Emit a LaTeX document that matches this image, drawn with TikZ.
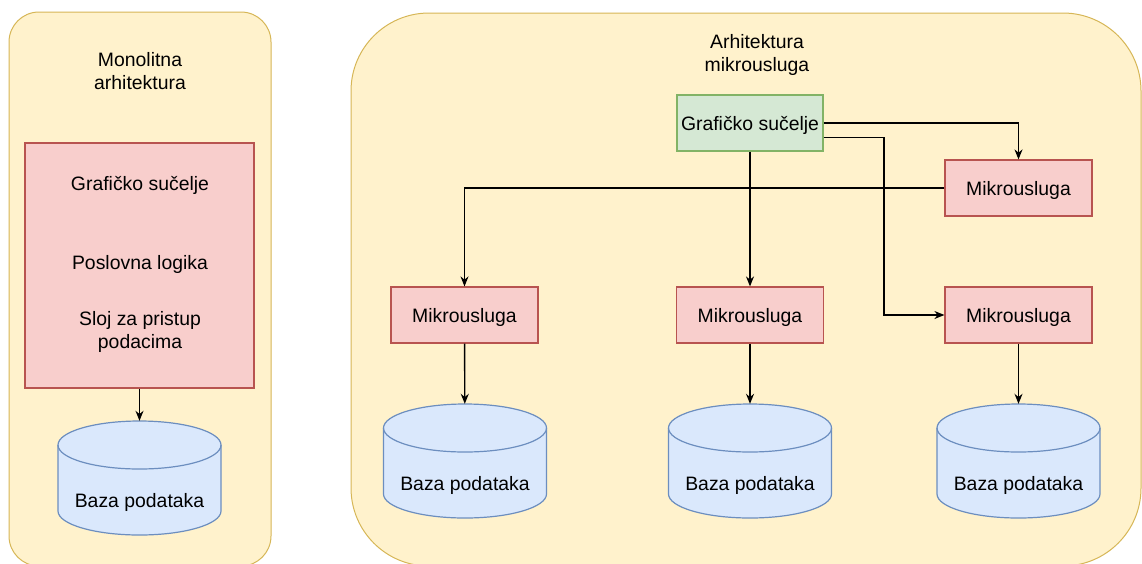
\documentclass[tikz,border=0pt]{standalone}
\usepackage{fontspec}
\setmainfont{Liberation Sans}
\usepackage{xcolor}
\usetikzlibrary{calc}
\usetikzlibrary{arrows.meta}
\definecolor{contfill}{HTML}{FFF2CC}
\definecolor{contline}{HTML}{D6B656}
\definecolor{boxfill}{HTML}{F8CECC}
\definecolor{boxline}{HTML}{B85450}
\definecolor{guifill}{HTML}{D5E8D4}
\definecolor{guiline}{HTML}{82B366}
\definecolor{dbfill}{HTML}{DAE8FC}
\definecolor{dbline}{HTML}{6C8EBF}
\tikzset{
	container/.style={draw=contline, fill=contfill, line width=1pt},
	txt/.style={font=\fontsize{19.4}{22.5}\selectfont, align=center, inner sep=0pt},
	service/.style={draw=boxline, fill=boxfill, line width=1.2pt, minimum width=147, minimum height=56, txt,
			text height=17pt, text depth=2pt},
	gui/.style={draw=guiline, fill=guifill, line width=1.2pt, minimum width=146, minimum height=56, txt,
			text height=17pt, text depth=2pt},
	db/.style={rectangle, minimum width=163, minimum height=114, inner sep=0pt,
			label={[txt, yshift=-24pt]center:Baza podataka}},
	dbshape/.style={draw=dbline, fill=dbfill, line width=1.2pt},
	flow/.style={-{Stealth[length=10pt,width=8pt]}, line width=1.4pt, black}
}

\begin{document}
\begin{tikzpicture}[x=1pt,y=-1pt]
	\useasboundingbox (0,0) rectangle (1142,563);
	\draw[container, rounded corners=30pt] (9,12) rectangle (271,566);
	\draw[container, rounded corners=78pt] (351,13) rectangle (1141,566);

	% monolitna
	\node[txt] (monotitle) at (140,71) {Monolitna\\arhitektura};
	\node[draw=boxline, fill=boxfill, line width=1.2pt, minimum width=229, minimum height=245] (mono) at (139.5,265.5) {};
	\node[txt] (monogui) at (140,185) {Grafičko sučelje};
	\node[txt] (monologic) at (140,264) {Poslovna logika};
	\node[txt] (monodata) at (140,332) {Sloj za pristup\\podacima};
	\coordinate (dbmpos) at (139.5,478);

	% mikrousluge
	\node[txt] (mstitle) at (757,55) {Arhitektura\\mikrousluga};
	\node[gui] (gui) at (750,123) {Grafičko sučelje};
	\node[service] (ms1) at (1018.5,188) {Mikrousluga};
	\node[service] (ms2) at (464.5,315) {Mikrousluga};
	\node[service] (ms3) at (750,315) {Mikrousluga};
	\node[service] (ms4) at (1018.5,315) {Mikrousluga};

	% baze (cilindri)
	\foreach \d/\pos in {dbm/dbmpos, db2/{465,461}, db3/{750,461}, db4/{1018.5,461}}{
		\path (\pos) coordinate (c);
		\draw[dbshape] ([shift={(-81.5,-33)}]c) -- ([shift={(-81.5,33)}]c)
			arc[start angle=180, end angle=360, x radius=81.5pt, y radius=24pt]
			-- ([shift={(81.5,-33)}]c)
			arc[start angle=0, end angle=180, x radius=81.5pt, y radius=24pt] -- cycle;
		\draw[dbshape, fill=none] ([shift={(-81.5,-33)}]c)
			arc[start angle=180, end angle=360, x radius=81.5pt, y radius=24pt];
		\node[db] (\d) at (c) {};
	}

	\coordinate (guiout) at ($(gui.north east)!0.75!(gui.south east)$);
	\coordinate (bend) at (884,0);
	\draw[flow] (mono) -- (dbm);
	\draw[flow] (gui.east) -| (ms1.north);
	\draw[flow] (guiout) -| (bend |- ms4.west) -- (ms4.west);
	\draw[flow] (gui) -- (ms3);
	\draw[flow] (ms1.west) -| (ms2.north);
	\draw[flow] (ms2) -- (db2);
	\draw[flow] (ms3) -- (db3);
	\draw[flow] (ms4) -- (db4);
\end{tikzpicture}
\end{document}
